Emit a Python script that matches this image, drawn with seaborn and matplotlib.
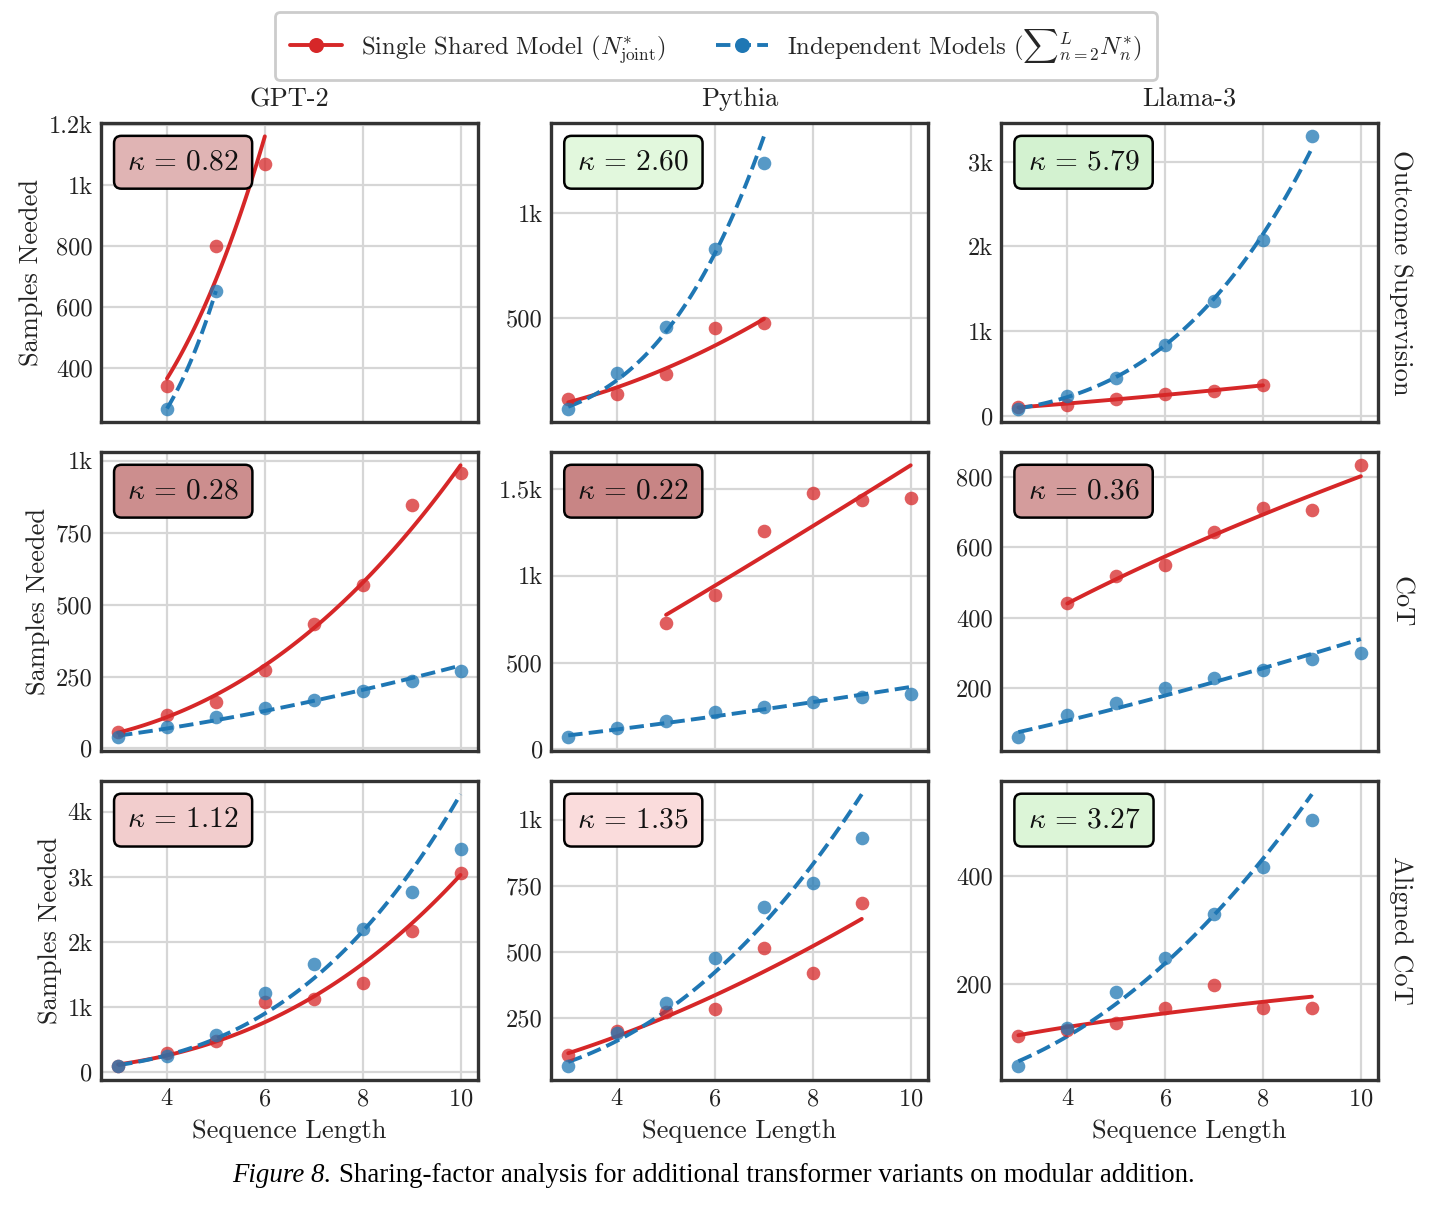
import numpy as np
import pandas as pd
import seaborn as sns
import matplotlib
matplotlib.use("Agg")
import matplotlib.pyplot as plt
from matplotlib.lines import Line2D
from matplotlib.ticker import MaxNLocator, FuncFormatter

# ---------------- data ----------------
models = ["GPT-2", "Pythia", "Llama-3"]
settings = ["Outcome Supervision", "CoT", "Aligned CoT"]
x_ticks = [4, 6, 8, 10]

# Outcome supervision
gpt2_os_joint_x = [4, 5, 6]
gpt2_os_joint_y = [342, 801, 1070]
gpt2_os_indep_x = [4, 5]
gpt2_os_indep_y = [267, 653]
pythia_os_joint_x = [3, 4, 5, 6, 7]
pythia_os_joint_y = [113, 137, 234, 455, 479]
pythia_os_indep_x = [3, 4, 5, 6, 7]
pythia_os_indep_y = [68, 237, 456, 831, 1239]
llama_os_joint_x = [3, 4, 5, 6, 7, 8]
llama_os_joint_y = [103, 131, 195, 255, 295, 362]
llama_os_indep_x = [3, 4, 5, 6, 7, 8, 9]
llama_os_indep_y = [84, 231, 450, 831, 1353, 2077, 3299]

# CoT
gpt2_cot_joint_x = [3, 4, 5, 6, 7, 8, 9, 10]
gpt2_cot_joint_y = [57, 117, 160, 273, 434, 567, 847, 959]
gpt2_cot_indep_x = [3, 4, 5, 6, 7, 8, 9, 10]
gpt2_cot_indep_y = [38, 75, 110, 139, 170, 201, 233, 269]
pythia_cot_joint_x = [5, 6, 7, 8, 9, 10]
pythia_cot_joint_y = [729, 890, 1257, 1477, 1438, 1447]
pythia_cot_indep_x = [3, 4, 5, 6, 7, 8, 9, 10]
pythia_cot_indep_y = [68, 123, 164, 214, 244, 273, 302, 318]
llama_cot_joint_x = [4, 5, 6, 7, 8, 9, 10]
llama_cot_joint_y = [443, 519, 549, 644, 712, 706, 833]
llama_cot_indep_x = [3, 4, 5, 6, 7, 8, 9, 10]
llama_cot_indep_y = [60, 125, 158, 200, 229, 253, 284, 300]

# Aligned CoT
gpt2_al_joint_x = [3, 4, 5, 6, 7, 8, 9, 10]
gpt2_al_joint_y = [100, 290, 475, 1077, 1119, 1372, 2164, 3066]
gpt2_al_indep_x = [3, 4, 5, 6, 7, 8, 9, 10]
gpt2_al_indep_y = [90, 253, 575, 1214, 1662, 2206, 2765, 3435]
pythia_al_joint_x = [3, 4, 5, 6, 7, 8, 9]
pythia_al_joint_y = [108, 200, 272, 283, 516, 419, 686]
pythia_al_indep_x = [3, 4, 5, 6, 7, 8, 9]
pythia_al_indep_y = [66, 191, 306, 478, 671, 761, 931]
llama_al_joint_x = [3, 4, 5, 6, 7, 8, 9]
llama_al_joint_y = [104, 114, 127, 156, 198, 156, 155]
llama_al_indep_x = [3, 4, 5, 6, 7, 8, 9]
llama_al_indep_y = [47, 119, 185, 248, 329, 416, 504]

kappas = [[0.82, 2.60, 5.79],
          [0.28, 0.22, 0.36],
          [1.12, 1.35, 3.27]]
kappa_colors = [["#e0b4b4", "#e2f8dd", "#d3f2d0"],
                ["#cc8e8e", "#c88585", "#d49c9c"],
                ["#f2cdcd", "#fadcdc", "#dcf5d7"]]

panels = [
    [((gpt2_os_joint_x, gpt2_os_joint_y), (gpt2_os_indep_x, gpt2_os_indep_y)),
     ((pythia_os_joint_x, pythia_os_joint_y), (pythia_os_indep_x, pythia_os_indep_y)),
     ((llama_os_joint_x, llama_os_joint_y), (llama_os_indep_x, llama_os_indep_y))],
    [((gpt2_cot_joint_x, gpt2_cot_joint_y), (gpt2_cot_indep_x, gpt2_cot_indep_y)),
     ((pythia_cot_joint_x, pythia_cot_joint_y), (pythia_cot_indep_x, pythia_cot_indep_y)),
     ((llama_cot_joint_x, llama_cot_joint_y), (llama_cot_indep_x, llama_cot_indep_y))],
    [((gpt2_al_joint_x, gpt2_al_joint_y), (gpt2_al_indep_x, gpt2_al_indep_y)),
     ((pythia_al_joint_x, pythia_al_joint_y), (pythia_al_indep_x, pythia_al_indep_y)),
     ((llama_al_joint_x, llama_al_joint_y), (llama_al_indep_x, llama_al_indep_y))],
]

RED = "#d62728"
BLUE = "#1f77b4"

# ---------------- style ----------------
sns.set_style("whitegrid")
plt.rcParams.update({
    "font.family": "serif",
    "font.serif": ["cmr10"],
    "mathtext.fontset": "cm",
    "axes.formatter.use_mathtext": True,
    "axes.unicode_minus": False,
    "axes.edgecolor": "#333333",
    "axes.linewidth": 1.2,
    "grid.color": "#d6d6d6",
    "grid.linewidth": 0.8,
})

fig, axes = plt.subplots(3, 3, sharex=True, figsize=(7.21, 6.035), dpi=200)
fig.subplots_adjust(left=0.070, right=0.9556, top=0.8983, bottom=0.1052,
                    wspace=0.195, hspace=0.0985)


def kfmt(v, pos):
    if abs(v) >= 1000:
        return f"{v/1000:g}k"
    return f"{v:g}"


for i, setting in enumerate(settings):
    for j, model in enumerate(models):
        ax = axes[i, j]
        (jx, jy), (ix, iy) = panels[i][j]
        for xs, ys, color, ls in [(jx, jy, RED, "-"), (ix, iy, BLUE, "--")]:
            xs = np.asarray(xs, float)
            ys = np.asarray(ys, float)
            b, a = np.polyfit(np.log(xs), np.log(ys), 1)
            xf = np.linspace(xs.min(), xs.max(), 120)
            yf = np.exp(a) * xf ** b
            sns.lineplot(x=xf, y=yf, ax=ax, color=color, linestyle=ls,
                         linewidth=1.4, zorder=3)
            sns.scatterplot(x=xs, y=ys, ax=ax, color=color, s=24, alpha=0.75,
                            linewidth=0, zorder=4)
        ax.set_xticks(x_ticks)
        ax.yaxis.set_major_locator(MaxNLocator(nbins=5, steps=[1, 2, 2.5, 5, 10]))
        ax.yaxis.set_major_formatter(FuncFormatter(kfmt))
        ax.tick_params(direction="in", length=4, width=1.0, labelsize=8.8,
                       colors="#333333", labelcolor="#222222", pad=3)
        ax.grid(True)
        ax.set_axisbelow(True)
        for sp in ax.spines.values():
            sp.set_color("#333333")
            sp.set_linewidth(1.2)
        ax.set_xlabel("Sequence Length" if i == 2 else "", fontsize=9.5,
                      color="#222222", labelpad=3)
        ax.set_ylabel("Samples Needed" if j == 0 else "", fontsize=9.5,
                      color="#222222", labelpad=2)
        if i == 0:
            ax.set_title(model, fontsize=9.5, pad=6, color="#222222")
        if j == 2:
            ax.text(1.03, 0.5, setting, transform=ax.transAxes, rotation=-90,
                    ha="left", va="center", fontsize=9.5, color="#222222")
        ax.text(0.07, 0.912, rf"$\kappa\,=\,{kappas[i][j]:.2f}$",
                transform=ax.transAxes, ha="left", va="top", fontsize=10.6,
                color="#111111", zorder=6,
                bbox=dict(boxstyle="round,pad=0.45,rounding_size=0.25",
                          fc=kappa_colors[i][j], ec="black", lw=0.9))

handles = [
    Line2D([], [], color=RED, ls="-", lw=1.4, marker="o", markersize=4.4),
    Line2D([], [], color=BLUE, ls="--", lw=1.4, marker="o", markersize=4.4),
]
labels = [r"Single Shared Model ($N^{*}_{\mathrm{joint}}$)",
          r"Independent Models (${\sum}_{n=2}^{L} N^{*}_{n}$)"]
fig.legend(handles, labels, loc="center", bbox_to_anchor=(0.4965, 0.962), ncol=2,
           frameon=True, fancybox=True, edgecolor="#cccccc", framealpha=1.0,
           fontsize=8.9, handlelength=2.1, columnspacing=2.0, borderpad=0.6)

fig.text(331 / 1442, 1 - 1176 / 1207, "Figure 8.", ha="right", va="center",
         fontsize=9.7, family="Liberation Serif", style="italic", color="black")
fig.text(339 / 1442, 1 - 1176 / 1207,
         "Sharing-factor analysis for additional transformer variants on modular addition.",
         ha="left", va="center", fontsize=9.7, family="Liberation Serif", color="black")

fig.savefig("out.png", dpi=200)
